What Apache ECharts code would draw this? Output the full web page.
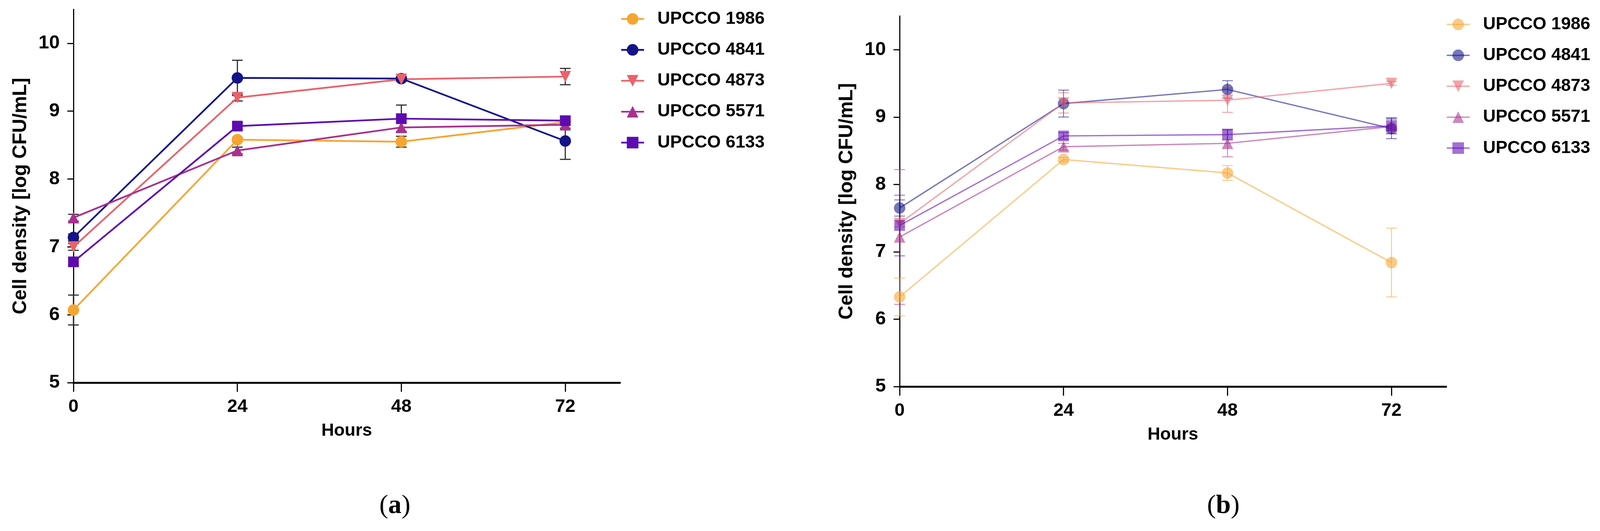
<!DOCTYPE html>
<html>
<head>
<meta charset="utf-8">
<script src="https://cdn.jsdelivr.net/npm/echarts@6/dist/echarts.min.js"></script>
<style>
html,body{margin:0;padding:0;background:#fff;overflow:hidden;}
#wrap{position:relative;}
#chartA,#chartB{position:absolute;top:0;}
</style>
</head>
<body>
<div id="wrap">
	<div id="chartA"></div>
	<div id="chartB"></div>
</div>
<script>
// time points (h)
var hours = [0, 24, 48, 72];
var strains = ['UPCCO 1986', 'UPCCO 4841', 'UPCCO 4873', 'UPCCO 5571', 'UPCCO 6133'];
var yTicks = [5, 6, 7, 8, 9, 10];

// panel (a) means / sd
var a1986 = [6.07, 8.58, 8.55, 8.84];
var a4841 = [7.14, 9.49, 9.48, 8.56];
var a4873 = [7.00, 9.20, 9.47, 9.51];
var a5571 = [7.43, 8.42, 8.76, 8.80];
var a6133 = [6.78, 8.78, 8.89, 8.86];
var aSd1986 = [0.22, 0.03, 0.08, 0.04];
var aSd4841 = [0.05, 0.26, 0.03, 0.27];
var aSd4873 = [0.05, 0.05, 0.03, 0.12];
var aSd5571 = [0.05, 0.05, 0.06, 0.05];
var aSd6133 = [0.05, 0.05, 0.20, 0.06];

// panel (b) means / sd
var b1986 = [6.33, 8.37, 8.17, 6.84];
var b4841 = [7.65, 9.20, 9.41, 8.83];
var b4873 = [7.42, 9.21, 9.25, 9.50];
var b5571 = [7.22, 8.56, 8.61, 8.86];
var b6133 = [7.39, 8.72, 8.74, 8.87];
var bSd1986 = [0.28, 0.03, 0.11, 0.51];
var bSd4841 = [0.12, 0.20, 0.13, 0.15];
var bSd4873 = [0.05, 0.15, 0.18, 0.03];
var bSd5571 = [1.00, 0.05, 0.20, 0.10];
var bSd6133 = [0.45, 0.05, 0.08, 0.12];

var colors = ['#F7A531', '#13138A', '#E9626B', '#A8308E', '#5E0AB2'];
var symbols = ['circle', 'circle', 'triangle', 'triangle', 'rect'];
var rotates = [0, 0, 180, 0, 0];

var wide = "'Liberation Sans', Arial, sans-serif";

// the layout was measured on a 4197x1360 page; scale it to the real viewport
var W = window.innerWidth || 4197, H = window.innerHeight || 1360;
var sx = W / 4197, sy = H / 1360, sf = Math.min(sx, sy);
function X(v){ return Math.round(v * sx); }
function Y(v){ return Math.round(v * sy); }
function F(v){ return Math.round(v * sf * 10) / 10; }

var wrap = document.getElementById('wrap');
wrap.style.width = W + 'px';
wrap.style.height = H + 'px';

function pairs(ys){
	var out = [];
	for(var i = 0; i < hours.length; i++) out.push([hours[i], ys[i]]);
	return out;
}
function errData(ys, sd){
	var out = [];
	for(var i = 0; i < hours.length; i++) out.push([hours[i], ys[i] - sd[i], ys[i] + sd[i]]);
	return out;
}
function $each(arr, fn){
	for(var i = 0; i < arr.length; i++) fn(i, arr[i]);
}

function buildPanel(dom, p){
	dom.style.left = X(p.divLeft) + 'px';
	dom.style.width = X(p.divWidth) + 'px';
	dom.style.height = H + 'px';
	var chart = echarts.init(dom, null, {renderer: 'canvas'});
	var series = [];
	// error bars first, so the markers sit on top
	$each(p.means, function(i, m){
		series.push({
			name: strains[i] + ' sd',
			type: 'custom',
			z: 2,
			data: errData(m, p.sds[i]),
			renderItem: function(params, api){
				var x = api.value(0);
				var top = api.coord([x, api.value(2)]);
				var bot = api.coord([x, api.value(1)]);
				var hw = F(p.cap);
				var st = {stroke: p.errColor || colors[i], lineWidth: F(p.errWidth), opacity: p.alpha};
				return {type: 'group', children: [
					{type: 'line', shape: {x1: top[0], y1: top[1], x2: bot[0], y2: bot[1]}, style: st},
					{type: 'line', shape: {x1: top[0] - hw, y1: top[1], x2: top[0] + hw, y2: top[1]}, style: st},
					{type: 'line', shape: {x1: bot[0] - hw, y1: bot[1], x2: bot[0] + hw, y2: bot[1]}, style: st}
				]};
			}
		});
	});
	$each(p.means, function(i, m){
		series.push({
			name: strains[i],
			type: 'line',
			z: 3,
			data: pairs(m),
			symbol: symbols[i],
			symbolRotate: rotates[i],
			symbolSize: F(symbols[i] == 'rect' ? 28 : 30),
			showAllSymbol: true,
			lineStyle: {color: colors[i], width: F(p.lineWidth), opacity: p.alpha},
			itemStyle: {color: colors[i], opacity: p.alpha},
			emphasis: {disabled: true}
		});
	});

	var option = {
		animation: false,
		grid: {left: X(p.left), top: Y(p.top), width: X(1434), height: Y(p.height), containLabel: false},
		legend: {
			orient: 'vertical',
			left: X(p.legendLeft),
			top: Y(p.legendTop),
			padding: 0,
			data: strains,
			itemWidth: F(60),
			itemHeight: F(38),
			itemGap: F(35),
			selectedMode: false,
			lineStyle: {width: F(p.lineWidth)},
			textStyle: {fontFamily: wide, fontWeight: 'bold', fontSize: F(46), lineHeight: F(46), color: '#000', padding: [0, 0, 0, F(30)]}
		},
		xAxis: {
			type: 'value', min: 0, max: 80, interval: 24,
			name: 'Hours', nameLocation: 'middle', nameGap: F(104),
			nameTextStyle: {fontFamily: wide, fontWeight: 'bold', fontSize: F(46), color: '#000'},
			splitLine: {show: false},
			axisLine: {onZero: false, lineStyle: {color: '#000', width: F(5)}},
			axisTick: {length: F(24), lineStyle: {color: '#000', width: F(3)}, customValues: hours},
			axisLabel: {margin: F(40), fontFamily: wide, fontWeight: 'bold', fontSize: F(48), color: '#000', customValues: hours}
		},
		yAxis: {
			type: 'value', min: 5, max: 10.5, interval: 1,
			name: 'Cell density [log CFU/mL]', nameLocation: 'middle', nameGap: F(112), nameRotate: 90,
			nameTextStyle: {fontFamily: wide, fontWeight: 'bold', fontSize: F(51), color: '#000'},
			splitLine: {show: false},
			axisLine: {show: true, onZero: false, lineStyle: {color: '#000', width: F(3)}},
			axisTick: {show: true, length: F(16), lineStyle: {color: '#000', width: F(3)}, customValues: yTicks},
			axisLabel: {margin: F(36), fontFamily: wide, fontWeight: 'bold', fontSize: F(50), color: '#000', customValues: yTicks}
		},
		graphic: [{
			type: 'text',
			left: X(p.capX), top: Y(1262),
			style: {
				text: '{p|(}{b|' + p.caption + '}{p|)}',
				rich: {
					p: {fontFamily: "'Liberation Serif', serif", fontSize: F(70), fill: '#000'},
					b: {fontFamily: "'Liberation Serif', serif", fontSize: F(70), fontWeight: 'bold', fill: '#000'}
				}
			}
		}],
		series: series
	};
	chart.setOption(option, true);
	return chart;
}

buildPanel(document.getElementById('chartA'), {
	divLeft: 0, divWidth: 2098,
	means: [a1986, a4841, a4873, a5571, a6133],
	sds: [aSd1986, aSd4841, aSd4873, aSd5571, aSd6133],
	left: 193, top: 24, height: 956,
	legendLeft: 1627, legendTop: 26,
	lineWidth: 4.5, errWidth: 3, errColor: '#2b2b2b', cap: 14, alpha: 1,
	caption: 'a', capX: 995
});
buildPanel(document.getElementById('chartB'), {
	divLeft: 2098, divWidth: 2099,
	means: [b1986, b4841, b4873, b5571, b6133],
	sds: [bSd1986, bSd4841, bSd4873, bSd5571, bSd6133],
	left: 261, top: 41, height: 949,
	legendLeft: 1695, legendTop: 40,
	lineWidth: 3.5, errWidth: 2.5, cap: 14, alpha: 0.58,
	caption: 'b', capX: 1068
});
</script>
</body>
</html>
